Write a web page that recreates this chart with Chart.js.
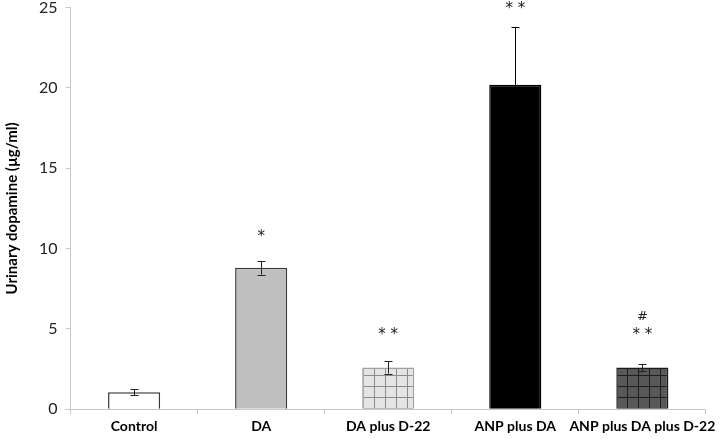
<!DOCTYPE html>
<html>
<head>
<meta charset="utf-8">
<script src="https://cdn.jsdelivr.net/npm/chart.js@4.4.1/dist/chart.umd.min.js"></script>
<style>
html,body{margin:0;padding:0;background:#fff;overflow:hidden;}
#wrap{width:720px;height:439px;position:relative;overflow:hidden;}
#c{position:absolute;left:0;top:-10px;}
</style>
</head>
<body>
<div id="wrap"><canvas id="c" width="720" height="449"></canvas></div>
<script>
const categories = ['Control', 'DA', 'DA plus D-22', 'ANP plus DA', 'ANP plus DA plus D-22'];
const values = [1.05, 8.8, 2.6, 20.2, 2.6];
const errors = [0.18, 0.42, 0.38, 3.6, 0.22];
const marks = [[], ['*'], ['* *'], ['* *'], ['#', '* *']];
const yTicks = [0, 5, 10, 15, 20, 25];

function makePattern(bg, line, step) {
  const p = document.createElement('canvas');
  p.width = step; p.height = step;
  const g = p.getContext('2d');
  g.fillStyle = bg; g.fillRect(0, 0, step, step);
  g.fillStyle = line;
  g.fillRect(0, 0, 1, step);
  g.fillRect(0, 0, step, 1);
  return document.getElementById('c').getContext('2d').createPattern(p, 'repeat');
}
const fills = ['#ffffff', '#c0c0c0', makePattern('#e4e4e4', '#8c8c8c', 11), '#000000', makePattern('#585858', '#1e1e1e', 11)];
const borders = ['#3a3a3a', '#3a3a3a', '#a0a0a0', '#000000', '#1a1a1a'];

const overlay = {
  id: 'overlay',
  afterDatasetsDraw(chart) {
    const ctx = chart.ctx;
    const xs = chart.scales.x, ys = chart.scales.y;
    ctx.save();
    ctx.lineWidth = 1;
    values.forEach((v, i) => {
      ctx.strokeStyle = i === 3 ? '#000' : '#222';
      const x = Math.round(xs.getPixelForValue(i)) + 0.5;
      const yt = ys.getPixelForValue(v + errors[i]);
      const yb = ys.getPixelForValue(v - errors[i]);
      ctx.beginPath();
      ctx.moveTo(x, yt); ctx.lineTo(x, yb);
      ctx.moveTo(x - 4, Math.round(yt) + 0.5); ctx.lineTo(x + 4, Math.round(yt) + 0.5);
      ctx.moveTo(x - 4, Math.round(yb) + 0.5); ctx.lineTo(x + 4, Math.round(yb) + 0.5);
      ctx.stroke();
    });
    ctx.fillStyle = '#222';
    ctx.textAlign = 'center';
    ctx.textBaseline = 'middle';
    const offsets = [[], [27], [29], [21], [47, 32]];
    values.forEach((v, i) => {
      const x = xs.getPixelForValue(i);
      const top = ys.getPixelForValue(v + errors[i]);
      marks[i].forEach((m, k) => {
        ctx.font = (m === '#' ? '13px' : '15px') + ' "DejaVu Sans", sans-serif';
        ctx.fillText(m, x, top - offsets[i][k] + (m === '#' ? 0 : 3));
      });
    });
    ctx.restore();
  }
};

new Chart(document.getElementById('c'), {
  type: 'bar',
  data: {
    labels: categories,
    datasets: [{
      data: values,
      backgroundColor: fills,
      borderColor: borders,
      borderWidth: 1.5,
      categoryPercentage: 1,
      barPercentage: 0.41
    }]
  },
  options: {
    responsive: false,
    animation: false,
    layout: { padding: { left: 3, right: 7, top: 0, bottom: 0 } },
    plugins: { legend: { display: false }, tooltip: { enabled: false } },
    scales: {
      x: {
        grid: { display: true, drawOnChartArea: false, offset: true, tickLength: 5, color: '#c8c8c8' },
        border: { color: '#c8c8c8' },
        ticks: { color: '#000', font: { family: 'Lato', size: 14, weight: 'bold' }, padding: 4, maxRotation: 0, autoSkip: false }
      },
      y: {
        min: 0, max: 25,
        afterBuildTicks(s) { s.ticks = yTicks.map(v => ({ value: v })); },
        grid: { display: true, drawOnChartArea: false, tickLength: 5, color: '#c8c8c8' },
        border: { color: '#c8c8c8' },
        ticks: { color: '#222', font: { family: 'Lato', size: 16 }, padding: 8 },
        title: { display: true, text: 'Urinary dopamine (µg/ml)', color: '#000', font: { family: 'Lato', size: 15, weight: 'bold' }, padding: { top: 0, bottom: 10 } }
      }
    }
  },
  plugins: [overlay]
});
</script>
</body>
</html>
